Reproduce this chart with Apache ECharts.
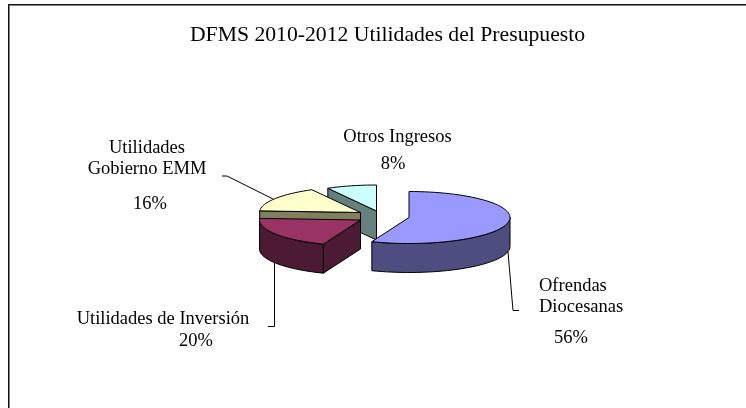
<!DOCTYPE html>
<html>
<head>
<meta charset="utf-8">
<style>
  html, body { margin: 0; padding: 0; background: #fff; }
  #chart { width: 746px; height: 408px; }
</style>
<script src="https://cdn.jsdelivr.net/npm/echarts@6/dist/echarts.min.js"></script>
</head>
<body>
<div id="chart"></div>
<script>
var chartTitle = 'DFMS 2010-2012 Utilidades del Presupuesto';
var categories = ['Ofrendas Diocesanas', 'Utilidades de Inversión', 'Utilidades Gobierno EMM', 'Otros Ingresos'];
var shares = [56, 20, 16, 8];
var percentLabels = ['56%', '20%', '16%', '8%'];

// look of the tilted pie, in page pixels
var RX = 101, RY = 26, DEPTH = 29;
var FONT = '"Liberation Serif", "Times New Roman", serif';
var topColors = ['#9999ff', '#993366', '#ffffcc', '#ccffff'];
var wallColors = ['#4d4d80', '#4d1a33', '#80805f', '#668080'];
// centre of each slice after it was pulled out of the pie
var centers = [[409, 217.5], [360.5, 220], [360.5, 212.5], [376.5, 211]];
// back to front
var drawOrder = [3, 2, 0, 1];
// label blocks: [x, y, align, text]
var labelBlocks = [
  [539, 296.5, 'left', 'Ofrendas\nDiocesanas'],
  [163, 319, 'center', 'Utilidades de Inversión'],
  [147, 158.5, 'center', 'Utilidades\nGobierno EMM'],
  [397.5, 137, 'center', 'Otros Ingresos']
];
var percentPos = [[571, 338, 'center'], [196, 341, 'center'], [150, 204, 'center'], [393, 164, 'center']];
var leaders = [
  [[508, 252], [513, 310.5], [519, 310.5]],
  [[274.5, 262], [274.5, 326.5], [268, 326.5]],
  [[273, 199], [227, 176], [222, 176]],
  null
];

function pt(c, deg, dy) {
  var a = deg * Math.PI / 180;
  return [c[0] + RX * Math.sin(a), c[1] - RY * Math.cos(a) + (dy || 0)];
}

function arcPoints(c, from, to, dy) {
  var pts = [];
  var n = Math.max(2, Math.ceil((to - from) / 3));
  for (var i = 0; i <= n; i++) pts.push(pt(c, from + (to - from) * i / n, dy));
  return pts;
}

function sliceShapes(idx, from, to) {
  var c = centers[idx];
  var out = [];
  var line = { stroke: '#000', lineWidth: 1, lineJoin: 'round' };
  var low = [c[0], c[1] + DEPTH];

  // cut face at the start of the slice when it looks at the viewer
  if (from > 180 && from < 360) {
    var p = pt(c, from);
    out.push({
      type: 'polygon',
      shape: { points: [c, p, pt(c, from, DEPTH), low] },
      style: Object.assign({ fill: wallColors[idx] }, line)
    });
  }
  // rim on the front half
  var r0 = Math.max(from, 90), r1 = Math.min(to, 270);
  if (r1 > r0) {
    out.push({
      type: 'polygon',
      shape: { points: arcPoints(c, r0, r1, 0).concat(arcPoints(c, r0, r1, DEPTH).reverse()) },
      style: Object.assign({ fill: wallColors[idx] }, line)
    });
  }
  // top
  out.push({
    type: 'polygon',
    shape: { points: [c].concat(arcPoints(c, from, to, 0)) },
    style: Object.assign({ fill: topColors[idx] }, line)
  });
  return out;
}

var starts = [];
var sum = 0;
shares.forEach(function (v) {
  starts.push(sum);
  sum += v;
});

function textEl(x, y, align, text, size) {
  return {
    type: 'text',
    x: x,
    y: y,
    style: {
      text: text,
      fill: '#000',
      font: size + 'px ' + FONT,
      align: align,
      verticalAlign: 'middle',
      lineHeight: 21.5
    }
  };
}

function frameLine(x1, y1, x2, y2, color) {
  return {
    type: 'line',
    shape: { x1: x1, y1: y1, x2: x2, y2: y2 },
    style: { stroke: color, lineWidth: 1 },
    silent: true
  };
}

var chart = echarts.init(document.getElementById('chart'));
chart.setOption({
  animation: false,
  backgroundColor: '#fff',
  title: {
    text: chartTitle,
    left: 382.5,
    top: 19,
    textAlign: 'center',
    textStyle: { fontFamily: FONT, fontSize: 21.7, fontWeight: 'normal', color: '#000' }
  },
  // only the left and top of the chart border are inside the picture
  graphic: [
    frameLine(9.5, 5, 9.5, 408, '#808080'),
    frameLine(9, 5.5, 746, 5.5, '#808080'),
    frameLine(8.5, 4, 8.5, 408, '#111'),
    frameLine(8, 4.5, 746, 4.5, '#111')
  ],
  series: [{
    type: 'custom',
    coordinateSystem: 'none',
    silent: true,
    data: drawOrder.map(function (i) { return [i, shares[i]]; }),
    renderItem: function (params, api) {
      var idx = api.value(0);
      var from = starts[idx] / sum * 360;
      var to = (starts[idx] + shares[idx]) / sum * 360;
      var children = sliceShapes(idx, from, to);
      if (leaders[idx]) {
        children.push({
          type: 'polyline',
          shape: { points: leaders[idx] },
          style: { fill: 'none', stroke: '#000', lineWidth: 1 }
        });
      }
      var b = labelBlocks[idx];
      children.push(textEl(b[0], b[1], b[2], b[3], 18.5));
      var q = percentPos[idx];
      children.push(textEl(q[0], q[1], q[2], percentLabels[idx], 18.5));
      return { type: 'group', children: children };
    }
  }]
});
</script>
</body>
</html>
